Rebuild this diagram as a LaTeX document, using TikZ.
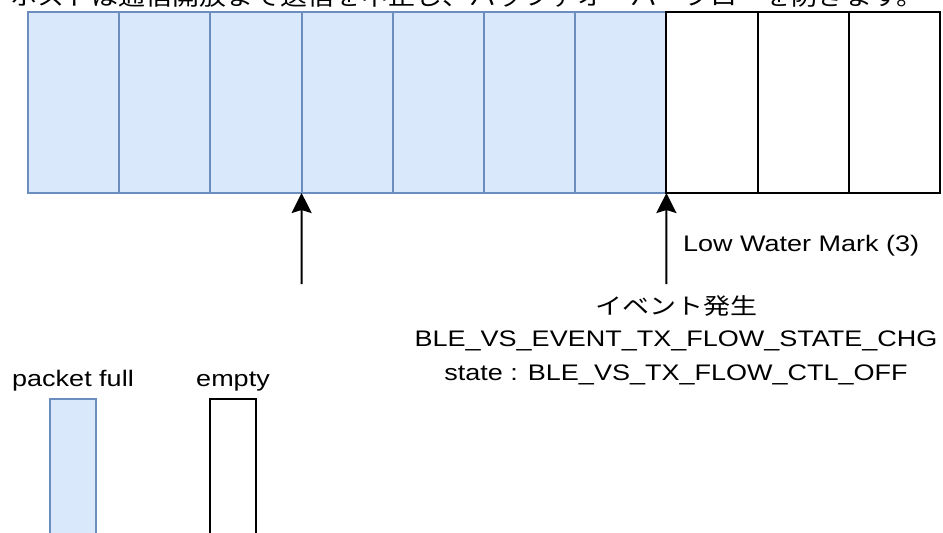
\documentclass[tikz,border=0pt]{standalone}
\usepackage{fontspec}
\setmainfont{Liberation Sans}
\newfontfamily\jpfont{Noto Sans CJK JP}
\usetikzlibrary{arrows.meta}
\definecolor{fillblue}{HTML}{DAE8FC}
\definecolor{strokeblue}{HTML}{6C8EBF}
\newcommand\stretchtxt[1]{\scalebox{1.2}[1]{#1}}
\begin{document}
\begin{tikzpicture}[x=1pt,y=-1pt,
  cell/.style={rectangle, minimum width=91.2pt, minimum height=181pt, inner sep=0pt, outer sep=0pt, line width=2pt},
  full/.style={cell, fill=fillblue, draw=strokeblue},
  emptycell/.style={cell, fill=white, draw=black},
  lbl/.style={inner sep=0pt, font=\fontsize{22.5}{26}\selectfont},
  arr/.style={line width=2pt, -{Stealth[length=20pt,width=20pt,inset=3pt]}}]
\useasboundingbox (0,0) rectangle (943,533);
\clip (0,0) rectangle (943,533);
% cells
\foreach \i in {1,...,7} {\node[full] (c\i) at ({28+91.2*(\i-0.5)},102.5) {};}
\foreach \i in {8,9,10} {\node[emptycell] (c\i) at ({28+91.2*(\i-0.5)},102.5) {};}
% top (cut off at the picture's upper edge, as in the reference)
\node[lbl, anchor=base west] (top) at (10,5) {\stretchtxt{\jpfont ホストは通信開放まで送信を中止し、バッファオーバーフローを防ぎます。}};
% arrows
\coordinate (a1) at (301.6,284);
\coordinate (a2) at (666.4,284);
\draw[arr] (a1) -- (c3.south east);
\draw[arr] (a2) -- (c7.south east);
% labels
\node[lbl, anchor=base west] (lwm) at (683,251) {\stretchtxt{Low Water Mark (3)}};
\node[lbl, anchor=base] (ev1) at (676,314) {\stretchtxt{\jpfont イベント発生}};
\node[lbl, anchor=base] (ev2) at (676,346) {\stretchtxt{BLE\_VS\_EVENT\_TX\_FLOW\_STATE\_CHG}};
\node[lbl, anchor=base] (ev3) at (676,380) {\stretchtxt{state : BLE\_VS\_TX\_FLOW\_CTL\_OFF}};
% legend
\node[lbl, anchor=base] (lf) at (73,386) {\stretchtxt{packet full}};
\node[lbl, anchor=base] (le) at (233,386) {\stretchtxt{empty}};
\node[full, minimum width=46pt] (kf) at (73.3,489.5) {};
\node[emptycell, minimum width=46pt] (ke) at (233,489.5) {};
\end{tikzpicture}
\end{document}
